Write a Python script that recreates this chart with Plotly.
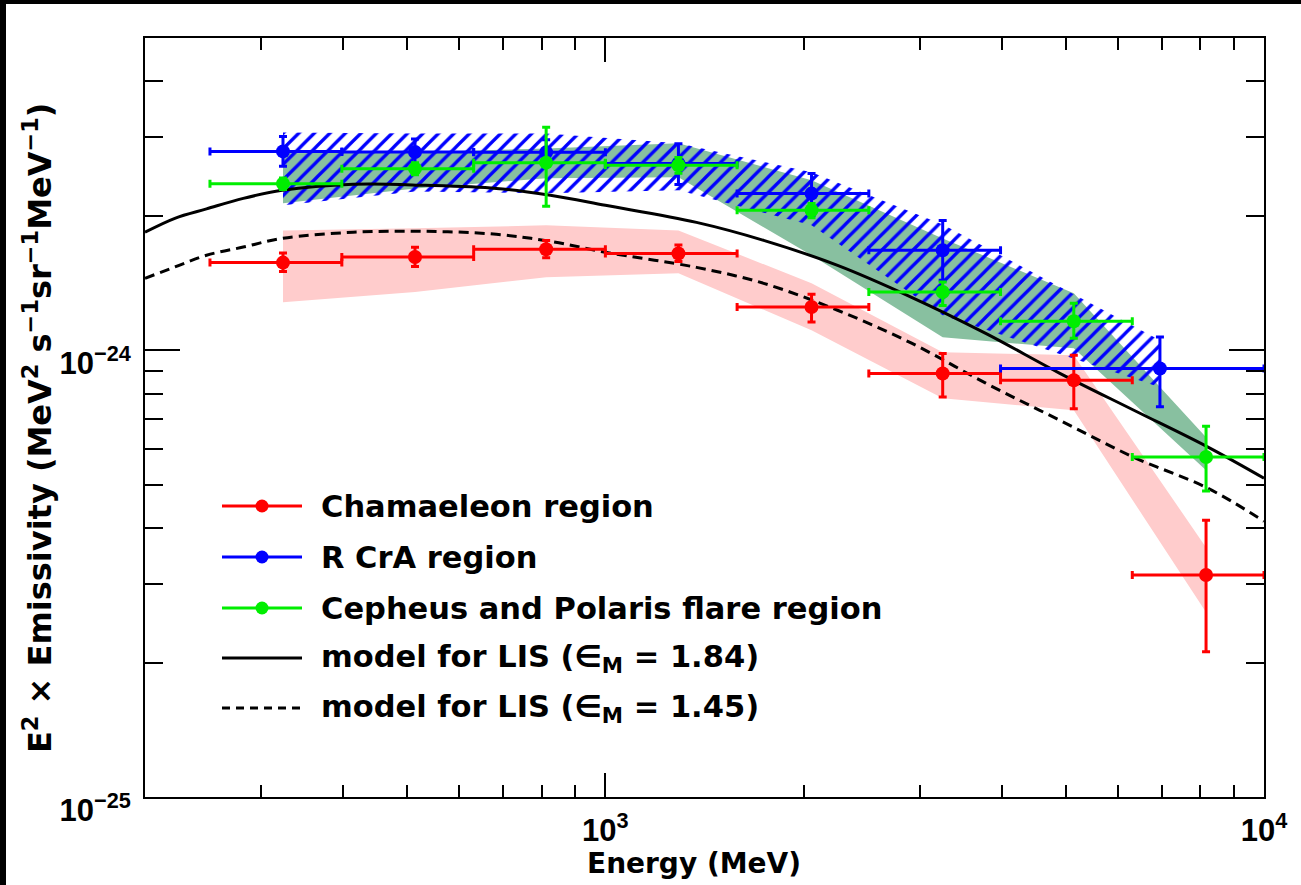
import math
import plotly.graph_objects as go

# ---------------- data ----------------
# Energy bins (MeV)
E_pts = [324, 514, 813, 1291, 2056, 3252, 5143, 8166]
E_lo = [251, 398, 631, 1000, 1585, 2512, 3981, 6310]
E_hi = [398, 631, 1000, 1585, 2512, 3981, 6310, 10000]

# Chamaeleon region (red)
cham_y = [1.571e-24, 1.617e-24, 1.683e-24, 1.646e-24, 1.250e-24, 0.887e-24, 0.857e-24, 0.314e-24]
cham_up = [1.650e-24, 1.700e-24, 1.760e-24, 1.720e-24, 1.335e-24, 0.983e-24, 0.975e-24, 0.4165e-24]
cham_dn = [1.500e-24, 1.540e-24, 1.610e-24, 1.580e-24, 1.157e-24, 0.786e-24, 0.740e-24, 0.2114e-24]
cham_band_hi = [1.855e-24, 1.875e-24, 1.904e-24, 1.855e-24, 1.412e-24, 0.990e-24, 0.975e-24, 0.362e-24]
cham_band_lo = [1.280e-24, 1.350e-24, 1.457e-24, 1.487e-24, 1.108e-24, 0.781e-24, 0.734e-24, 0.259e-24]

# R CrA region (blue)
rcra_E = [324, 514, 813, 1291, 2056, 3252, 6950]
rcra_lo = [251, 398, 631, 1000, 1585, 2512, 3981]
rcra_hi = [398, 631, 1000, 1585, 2512, 3981, 10000]
rcra_y = [2.787e-24, 2.778e-24, 2.773e-24, 2.620e-24, 2.242e-24, 1.674e-24, 0.910e-24]
rcra_up = [3.010e-24, 2.970e-24, 2.960e-24, 2.900e-24, 2.486e-24, 1.953e-24, 1.071e-24]
rcra_dn = [2.580e-24, 2.600e-24, 2.600e-24, 2.350e-24, 2.004e-24, 1.434e-24, 0.747e-24]
rcra_band_hi = [3.073e-24, 3.058e-24, 3.058e-24, 2.905e-24, 2.503e-24, 1.913e-24, 1.053e-24]
rcra_band_lo = [2.111e-24, 2.268e-24, 2.246e-24, 2.280e-24, 1.904e-24, 1.198e-24, 0.826e-24]

# Cepheus and Polaris flare region (green)
ceph_y = [2.360e-24, 2.550e-24, 2.630e-24, 2.594e-24, 2.057e-24, 1.350e-24, 1.161e-24, 0.577e-24]
ceph_up = [2.430e-24, 2.630e-24, 3.158e-24, 2.700e-24, 2.130e-24, 1.422e-24, 1.274e-24, 0.676e-24]
ceph_dn = [2.290e-24, 2.470e-24, 2.100e-24, 2.490e-24, 1.980e-24, 1.260e-24, 1.064e-24, 0.484e-24]
ceph_band_hi = [2.759e-24, 2.773e-24, 2.830e-24, 2.905e-24, 2.401e-24, 1.780e-24, 1.341e-24, 0.639e-24]
ceph_band_lo = [2.133e-24, 2.303e-24, 2.426e-24, 2.438e-24, 1.632e-24, 1.069e-24, 1.010e-24, 0.539e-24]

# LIS models
model_E = [200, 222, 248, 282, 323, 414, 533, 683, 825, 1000, 1375, 1739, 2252,
           2917, 3780, 4898, 6345, 8221, 10000]
lis_184 = [1.837e-24, 1.974e-24, 2.072e-24, 2.188e-24, 2.280e-24, 2.352e-24, 2.340e-24,
           2.303e-24, 2.222e-24, 2.111e-24, 1.933e-24, 1.762e-24, 1.549e-24, 1.314e-24,
           1.091e-24, 0.888e-24, 0.734e-24, 0.607e-24, 0.517e-24]
lis_145 = [1.449e-24, 1.536e-24, 1.632e-24, 1.702e-24, 1.780e-24, 1.837e-24, 1.846e-24,
           1.818e-24, 1.753e-24, 1.657e-24, 1.533e-24, 1.412e-24, 1.229e-24, 1.037e-24,
           0.844e-24, 0.697e-24, 0.576e-24, 0.491e-24, 0.414e-24]

x_tickvals = [1000, 10000]
x_ticktext = ["10<sup>3</sup>", "10<sup>4</sup>"]
x_minor = [300, 400, 500, 600, 700, 800, 900, 2000, 3000, 4000, 5000, 6000, 7000, 8000, 9000]
y_tickvals = [1e-25, 1e-24]
y_ticktext = ["10<sup>\u221225</sup>", "10<sup>\u221224</sup>"]
y_minor = [2e-25, 3e-25, 4e-25, 5e-25, 6e-25, 7e-25, 8e-25, 9e-25, 2e-24, 3e-24, 4e-24]

legend_labels = ["Chamaeleon region", "R CrA region", "Cepheus and Polaris flare region",
                 "model for LIS (\u2208<sub>M</sub> = 1.84)",
                 "model for LIS (\u2208<sub>M</sub> = 1.45)"]

# ---------------- layout geometry ----------------
W, H = 1301, 885
ML, MR, MT, MB = 145, 37, 38, 88
PW = W - ML - MR
PH = H - MT - MB
TICK_FONT = "Liberation Sans"
TEXT_FONT = "DejaVu Sans"


def pxx(px):
    return (px - ML) / PW


def pxy(py):
    return 1 - (py - MT) / PH


RED = "rgb(255,0,0)"
BLUE = "rgb(0,0,255)"
GREEN = "rgb(0,238,0)"

fig = go.Figure()


def band(E, lo, hi, **kw):
    return go.Scatter(x=list(E) + list(E)[::-1], y=list(hi) + list(lo)[::-1],
                      fill="toself", mode="lines",
                      line=dict(width=0, color="rgba(0,0,0,0)"),
                      hoverinfo="skip", showlegend=False, **kw)


fig.add_trace(band(E_pts, cham_band_lo, cham_band_hi, fillcolor="rgb(255,204,204)"))
fig.add_trace(band(E_pts, ceph_band_lo, ceph_band_hi, fillcolor="rgb(136,192,160)"))
fig.add_trace(band(rcra_E, rcra_band_lo, rcra_band_hi, fillcolor="rgba(0,0,0,0)",
                   fillpattern=dict(shape="/", fgcolor=BLUE, fgopacity=1,
                                    bgcolor="rgba(0,0,0,0)", size=11, solidity=0.3)))

fig.add_trace(go.Scatter(x=model_E, y=lis_184, mode="lines", showlegend=False,
                         line=dict(color="black", width=3, shape="spline")))
fig.add_trace(go.Scatter(x=model_E, y=lis_145, mode="lines", showlegend=False,
                         line=dict(color="black", width=3, shape="spline", dash="10px,6px")))


def points(E, lo, hi, y, up, dn, color, name):
    return go.Scatter(
        x=E, y=y, mode="markers", name=name, showlegend=False,
        marker=dict(color=color, size=14),
        error_x=dict(type="data", symmetric=False,
                     array=[h - e for h, e in zip(hi, E)],
                     arrayminus=[e - l for e, l in zip(E, lo)],
                     color=color, thickness=3, width=4),
        error_y=dict(type="data", symmetric=False,
                     array=[u - v for u, v in zip(up, y)],
                     arrayminus=[v - d for v, d in zip(y, dn)],
                     color=color, thickness=3, width=4),
    )


fig.add_trace(points(E_pts, E_lo, E_hi, cham_y, cham_up, cham_dn, RED, legend_labels[0]))
fig.add_trace(points(rcra_E, rcra_lo, rcra_hi, rcra_y, rcra_up, rcra_dn, BLUE, legend_labels[1]))
fig.add_trace(points(E_pts, E_lo, E_hi, ceph_y, ceph_up, ceph_dn, GREEN, legend_labels[2]))

# ---------------- manual legend ----------------
shapes = []
annotations = []
leg_y = [506, 557, 608, 658, 708]
leg_colors = [RED, BLUE, GREEN, "black", "black"]
for i, (lab, col, yy) in enumerate(zip(legend_labels, leg_colors, leg_y)):
    shapes.append(dict(type="line", xref="paper", yref="paper",
                       x0=pxx(222), x1=pxx(302), y0=pxy(yy), y1=pxy(yy),
                       line=dict(color=col, width=3, dash="8px,6px" if i == 4 else "solid")))
    if i < 3:
        shapes.append(dict(type="circle", xref="paper", yref="paper",
                           xsizemode="pixel", ysizemode="pixel",
                           xanchor=pxx(262), yanchor=pxy(yy),
                           x0=-6.5, x1=6.5, y0=-6.5, y1=6.5,
                           fillcolor=col, line=dict(color=col, width=0)))
    annotations.append(dict(text=lab, xref="paper", yref="paper",
                            x=pxx(319), y=pxy(yy), xanchor="left", yanchor="middle",
                            showarrow=False,
                            font=dict(family=TEXT_FONT, size=30.5, color="black", weight="bold")))

# axis titles
annotations.append(dict(text="Energy (MeV)", xref="paper", yref="paper",
                        x=pxx(694), y=pxy(863), xanchor="center", yanchor="middle",
                        showarrow=False,
                        font=dict(family=TEXT_FONT, size=28, color="black", weight="bold")))
annotations.append(dict(text="E<sup>2</sup> \u00d7 Emissivity (MeV<sup>2</sup> s<sup>\u22121</sup>sr<sup>\u22121</sup>MeV<sup>\u22121</sup>)",
                        xref="paper", yref="paper", textangle=-90,
                        x=pxx(38), y=pxy(428), xanchor="center", yanchor="middle",
                        showarrow=False,
                        font=dict(family=TEXT_FONT, size=32, color="black", weight="bold")))

# black strips on the top and left edges of the picture
shapes.append(dict(type="rect", xref="paper", yref="paper", layer="above",
                   x0=pxx(-2), x1=pxx(6), y0=pxy(H + 2), y1=pxy(-2),
                   fillcolor="black", line=dict(width=0)))
shapes.append(dict(type="rect", xref="paper", yref="paper", layer="above",
                   x0=pxx(-2), x1=pxx(W + 2), y0=pxy(4), y1=pxy(-2),
                   fillcolor="black", line=dict(width=0)))

tickfont = dict(family=TICK_FONT, size=31, color="black", weight="bold")
fig.update_layout(
    width=W, height=H,
    margin=dict(l=ML, r=MR, t=MT, b=MB, pad=0),
    paper_bgcolor="white", plot_bgcolor="white",
    showlegend=False,
    shapes=shapes, annotations=annotations,
    xaxis=dict(type="log", range=[math.log10(200), 4], showline=True, linecolor="black",
               linewidth=2, mirror="ticks", ticks="inside", ticklen=24, tickwidth=2,
               tickcolor="black", tickmode="array", tickvals=x_tickvals, ticktext=x_ticktext,
               tickfont=tickfont, showgrid=False, zeroline=False, ticklabelstandoff=5,
               minor=dict(ticks="inside", ticklen=12, tickwidth=2, tickcolor="black",
                          tickmode="array", tickvals=x_minor, showgrid=False)),
    yaxis=dict(type="log", range=[-25, math.log10(5e-24)], showline=True, linecolor="black",
               linewidth=2, mirror="ticks", ticks="inside", ticklen=35, tickwidth=2,
               tickcolor="black", tickmode="array", tickvals=y_tickvals, ticktext=y_ticktext,
               tickfont=tickfont, showgrid=False, zeroline=False, ticklabelstandoff=6,
               ticklabelshift=13,
               minor=dict(ticks="inside", ticklen=18, tickwidth=2, tickcolor="black",
                          tickmode="array", tickvals=y_minor, showgrid=False)),
)

fig.write_html("out.html", config={"displayModeBar": False})
